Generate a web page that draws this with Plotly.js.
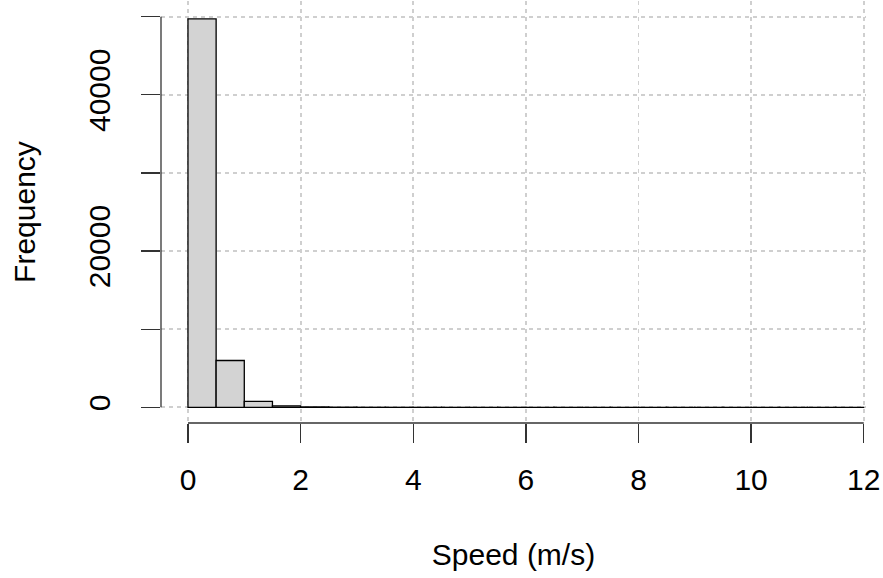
<!DOCTYPE html>
<html><head>
<script src="https://cdn.plot.ly/plotly-3.0.1.min.js"></script>
<style>body{margin:0;background:#fff}</style>
</head><body>
<div id="chart" style="width:883px;height:578px"></div>
<script>
// Histogram bins (left edges, m/s), bin width 0.5
const binLeft = [0,0.5,1,1.5,2,2.5,3,3.5,4,4.5,5,5.5,6,6.5,7,7.5,8,8.5,9,9.5,10,10.5,11,11.5];
const binWidth = 0.5;
const counts = [49700, 6000, 760, 190, 60, 25, 14, 9, 6, 4, 3, 3, 2, 2, 1, 1, 1, 1, 1, 1, 1, 1, 1, 1];
const xTicks = [0,2,4,6,8,10,12];
const xTickText = ['0','2','4','6','8','10','12'];
const yTicks = [0,10000,20000,30000,40000,50000];
const yTickText = ['0','','20000','','40000',''];
const xTitle = 'Speed (m/s)';
const yTitle = 'Frequency';

const font = {family:'Liberation Sans, Arial, sans-serif', size:30, color:'#000'};
const trace = {
  type:'bar', x:binLeft, y:counts, offset:0, width:binLeft.map(()=>binWidth),
  marker:{color:'#d3d3d3', line:{color:'#000', width:1.3}},
  hoverinfo:'x+y'
};
const layout = {
  width:883, height:578,
  margin:{l:161, r:17, t:1, b:155},
  paper_bgcolor:'#fff', plot_bgcolor:'#fff',
  showlegend:false, bargap:0,
  font:font,
  xaxis:{
    range:[-0.479, 12.04], tickmode:'array', tickvals:xTicks, ticktext:xTickText,
    ticks:'outside', ticklen:19, tickwidth:1.3, tickcolor:'#333',
    showline:false, zeroline:false,
    showgrid:true, gridcolor:'#cfcfcf', gridwidth:1.8, griddash:'4px,4px',
    ticklabelstandoff:11, tickfont:font,
    title:{text:xTitle, font:font, standoff:48}, automargin:false
  },
  yaxis:{
    range:[-2000, 52000], tickmode:'array', tickvals:yTicks, ticktext:yTickText,
    ticks:'outside', ticklen:19, tickwidth:1.3, tickcolor:'#333',
    showline:false, zeroline:false, tickangle:-90,
    showgrid:true, gridcolor:'#cfcfcf', gridwidth:1.8, griddash:'4px,4px',
    ticklabelstandoff:19, tickfont:font,
    title:{text:yTitle, font:font, standoff:38}, automargin:false
  },
  shapes:[
    {type:'line', xref:'x', yref:'paper', x0:xTicks[0], x1:xTicks[xTicks.length-1], y0:0, y1:0,
     line:{color:'#333', width:1.3}},
    {type:'line', xref:'paper', yref:'y', x0:0, x1:0, y0:yTicks[0], y1:yTicks[yTicks.length-1],
     line:{color:'#333', width:1.3}}
  ]
};
Plotly.newPlot('chart',[trace],layout,{displayModeBar:false, staticPlot:true});
</script>
</body></html>
